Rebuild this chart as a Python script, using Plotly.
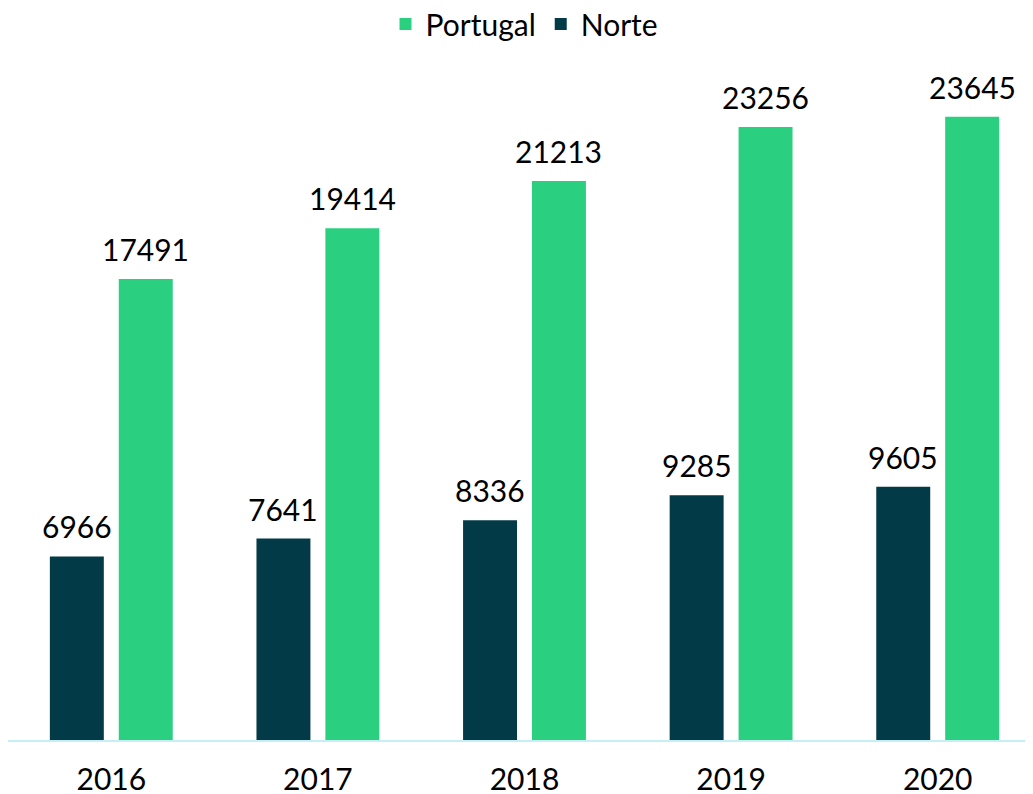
import plotly.graph_objects as go

# data
years = ['2016', '2017', '2018', '2019', '2020']
norte = [6966, 7641, 8336, 9285, 9605]
portugal = [17491, 19414, 21213, 23256, 23645]

# style
color_norte = '#033A48'
color_portugal = '#2AD07F'
font_family = 'Lato, Carlito, Calibri, sans-serif'
size_text = 30
bar_gap = 0.333
group_gap = 0.217
fig_w, fig_h = 1033, 794

fig = go.Figure()
fig.add_trace(go.Bar(x=years, y=norte, name='Norte',
                     marker=dict(color=color_norte, line=dict(width=0))))
fig.add_trace(go.Bar(x=years, y=portugal, name='Portugal',
                     marker=dict(color=color_portugal, line=dict(width=0))))

# value labels above bars (shifted to each bar of the group)
cat_w = fig_w / len(years)
shift = (1 - bar_gap) * cat_w / 4
for series, sx in [(norte, -shift), (portugal, shift)]:
    for i, v in enumerate(series):  # category axis -> serial index
        fig.add_annotation(x=i, y=v, text=str(v), showarrow=False,
                           xshift=sx, yshift=10, yanchor='bottom',
                           font=dict(size=size_text, color='black'))

fig.update_layout(
    width=fig_w, height=fig_h,
    margin=dict(l=0, r=0, t=52, b=62),
    paper_bgcolor='white', plot_bgcolor='white',
    font=dict(family=font_family, size=size_text, color='black'),
    barmode='group',
    bargap=bar_gap,
    bargroupgap=group_gap,
    showlegend=True,
    legend=dict(orientation='h', x=0.5, xanchor='center', y=0.98, yanchor='middle',
                yref='container', traceorder='reversed', font=dict(size=size_text)),
)

fig.update_xaxes(type='category', showline=True, linecolor='#C5EEF5', linewidth=2,
                 ticks='', tickfont=dict(size=size_text), ticklabelstandoff=12,
                 automargin=False)
fig.update_yaxes(visible=False, range=[0, 25800], showgrid=False, zeroline=False)

fig.write_html("out.html")
